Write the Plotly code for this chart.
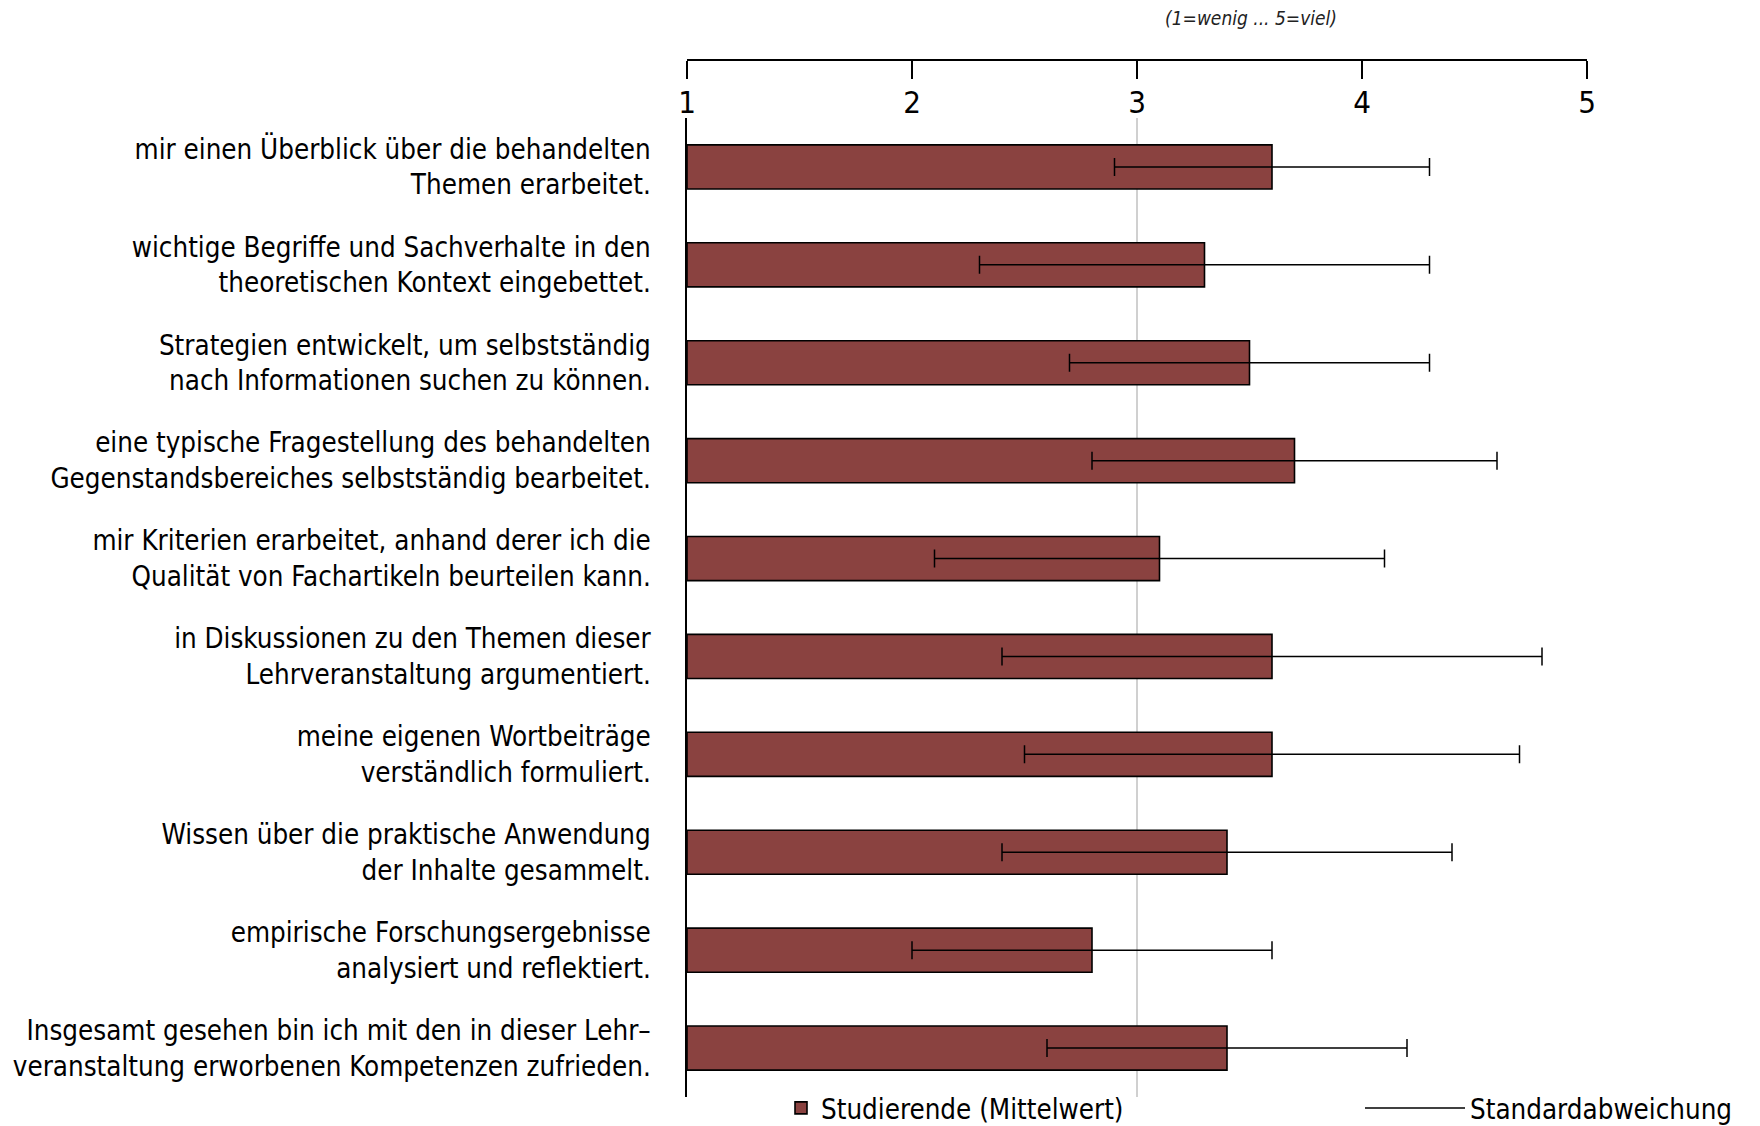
import plotly.graph_objects as go

categories = [
    "mir einen Überblick über die behandelten<br>Themen erarbeitet.",
    "wichtige Begriffe und Sachverhalte in den<br>theoretischen Kontext eingebettet.",
    "Strategien entwickelt, um selbstständig<br>nach Informationen suchen zu können.",
    "eine typische Fragestellung des behandelten<br>Gegenstandsbereiches selbstständig bearbeitet.",
    "mir Kriterien erarbeitet, anhand derer ich die<br>Qualität von Fachartikeln beurteilen kann.",
    "in Diskussionen zu den Themen dieser<br>Lehrveranstaltung argumentiert.",
    "meine eigenen Wortbeiträge<br>verständlich formuliert.",
    "Wissen über die praktische Anwendung<br>der Inhalte gesammelt.",
    "empirische Forschungsergebnisse<br>analysiert und reflektiert.",
    "Insgesamt gesehen bin ich mit den in dieser Lehr–<br>veranstaltung erworbenen Kompetenzen zufrieden.",
]
means = [3.6, 3.3, 3.5, 3.7, 3.1, 3.6, 3.6, 3.4, 2.8, 3.4]
sds = [0.7, 1.0, 0.8, 0.9, 1.0, 1.2, 1.1, 1.0, 0.8, 0.8]
tick_vals = [1, 2, 3, 4, 5]
tick_text = ["1", "2", "3", "4", "5"]
scale_note = "(1=wenig ... 5=viel)"
mean_name = "Studierende (Mittelwert)"
sd_name = "Standardabweichung"

FONT = "DejaVu Sans Condensed, Liberation Sans Narrow, sans-serif"
BAR_COLOR = "#8a4240"

fig = go.Figure()
fig.add_trace(go.Bar(
    y=categories, x=[m - 1 for m in means], base=1, orientation="h",
    width=0.45,
    marker=dict(color=BAR_COLOR, line=dict(color="black", width=1.6)),
    error_x=dict(type="data", array=sds, arrayminus=sds, symmetric=False,
                 color="black", thickness=1.5, width=9),
    name=mean_name, showlegend=True, legend="legend",
))
fig.add_trace(go.Scatter(
    x=[None], y=[None], mode="lines", line=dict(color="black", width=1.5),
    name=sd_name, showlegend=True, legend="legend2",
))

# page has an 8px body margin; positions below are page targets minus 8
OFF = 8
W, H = 1760, 1126
left = 687 - OFF
plot_w = 900
right = W - left - plot_w
top = 60 - OFF
plot_bottom = 1097 - OFF
bottom = H - plot_bottom
plot_h = plot_bottom - top
ydom_top = (plot_bottom - (118 - OFF)) / plot_h
leg_y = (plot_bottom - (1108 - OFF)) / plot_h

fig.update_layout(
    width=W, height=H,
    margin=dict(l=left, r=right, t=top, b=bottom, autoexpand=False),
    paper_bgcolor="white", plot_bgcolor="white",
    font=dict(family=FONT, size=27.5, color="black"),
    title=dict(text="<i>" + scale_note + "</i>", x=(1251 - OFF) / W, xanchor="center",
               xref="container", y=1 - (18 - OFF) / H, yanchor="middle", yref="container",
               font=dict(family=FONT, size=19, color="#222222")),
    xaxis=dict(
        range=[1, 5], domain=[0, 1], anchor="free", position=1, side="bottom",
        showline=True, linecolor="black", linewidth=1.5,
        ticks="outside", ticklen=18, tickwidth=1.5, tickcolor="black",
        tickvals=tick_vals, ticktext=tick_text, ticklabelstandoff=-3,
        tickfont=dict(family=FONT, size=31),
        showgrid=False, zeroline=False, fixedrange=True,
    ),
    yaxis=dict(
        domain=[0, ydom_top], anchor="x",
        categoryorder="array", categoryarray=categories,
        range=[9.5, -0.5],
        showline=True, linecolor="black", linewidth=1.5,
        ticks="", showgrid=False, zeroline=False,
        ticklabelstandoff=29,
        tickfont=dict(family=FONT, size=27.5),
    ),
    legend=dict(
        orientation="h", x=((822 - OFF - 41) - left) / plot_w, xanchor="left",
        y=leg_y, yanchor="middle",
        font=dict(family=FONT, size=27.5),
        bgcolor="rgba(0,0,0,0)",
    ),
    legend2=dict(
        orientation="h", x=((1471 - OFF - 111) - left) / plot_w, xanchor="left",
        y=leg_y, yanchor="middle", itemwidth=100,
        font=dict(family=FONT, size=27.5),
        bgcolor="rgba(0,0,0,0)",
    ),
    shapes=[dict(type="line", xref="x", yref="y domain", x0=3, x1=3, y0=0, y1=1,
                 line=dict(color="#c0c0c0", width=1.5), layer="below")],
)

fig.write_html("out.html")
